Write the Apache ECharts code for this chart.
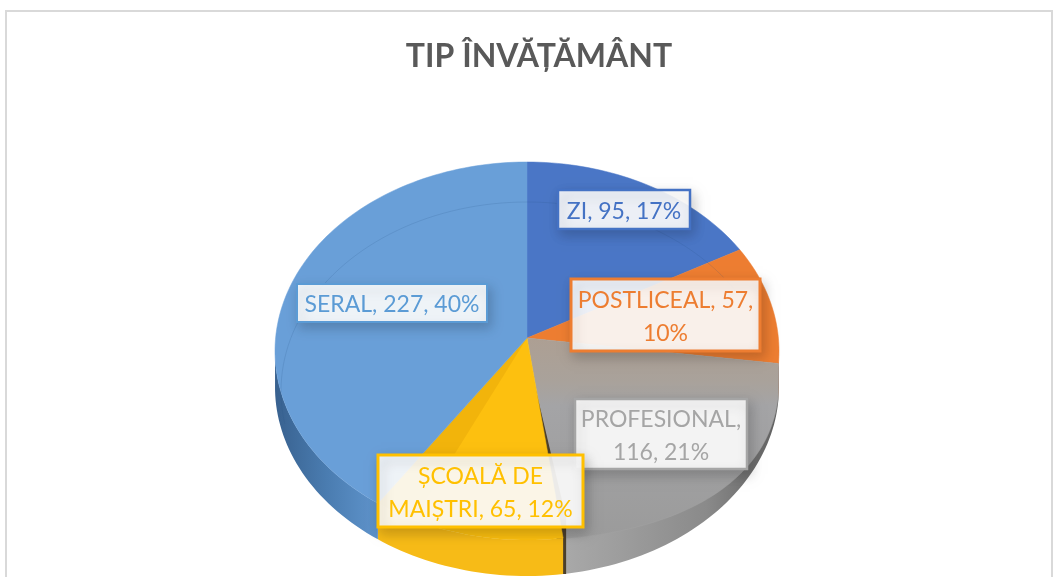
<!DOCTYPE html>
<html>
<head>
<meta charset="utf-8">
<title>TIP ÎNVĂȚĂMÂNT</title>
<style>
html, body { margin: 0; padding: 0; background: #fff; overflow: hidden; }
#chart { width: 1057px; height: 577px; }
</style>
<script src="https://cdn.jsdelivr.net/npm/echarts@6/dist/echarts.min.js"></script>
</head>
<body>
<div id="chart"></div>
<script>
// values
const categories = ['ZI', 'POSTLICEAL', 'PROFESIONAL', 'ȘCOALĂ DE MAIȘTRI', 'SERAL'];
const values = [95, 57, 116, 65, 227];
const percents = [17, 10, 21, 12, 40];
const labelLines = [
    ['ZI, 95, 17%'],
    ['POSTLICEAL, 57,', '10%'],
    ['PROFESIONAL,', '116, 21%'],
    ['ȘCOALĂ DE', 'MAIȘTRI, 65, 12%'],
    ['SERAL, 227, 40%']
];

// look of each slice
const colors = ['#4a76c6', '#ed7d31', '#a3a3a3', '#fdc00f', '#699fd8'];
const total = values.reduce((a, b) => a + b, 0);

// the tilted disc: ellipse, plus the slices' meeting point which sits above its centre
const CX = 527, CY = 351, RX = 252, RY = 189;
const APEX_Y = 338, DEPTH = 36;
const rad = d => d * Math.PI / 180;

// where the ray at angle a (clockwise from top) leaves the ellipse
function rimPoint(a) {
    const dx = Math.sin(rad(a)) * RX, dy = -Math.cos(rad(a)) * RY;
    const oy = APEX_Y - CY;
    const A = dx * dx / (RX * RX) + dy * dy / (RY * RY);
    const B = 2 * oy * dy / (RY * RY);
    const C = oy * oy / (RY * RY) - 1;
    const t = (-B + Math.sqrt(B * B - 4 * A * C)) / (2 * A);
    return [CX + dx * t, APEX_Y + dy * t];
}

function arc(from, to) {
    const pts = [];
    for (let a = from; a < to; a += 1.5) pts.push(rimPoint(a));
    pts.push(rimPoint(to));
    return pts;
}

function sliceAngles(i) {
    let sum = 0;
    for (let k = 0; k < i; k++) sum += values[k];
    return [sum / total * 360, (sum + values[i]) / total * 360];
}

const hGrad = stops => new echarts.graphic.LinearGradient(0, 0, 1, 0, stops.map((c, i) => ({ offset: i / (stops.length - 1), color: c })));

const topFills = [
    colors[0],
    colors[1],
    new echarts.graphic.LinearGradient(0, 0, 0, 1, [
        { offset: 0, color: '#ad9f93' },
        { offset: 0.22, color: '#a9a29b' },
        { offset: 0.34, color: '#a4a4a6' },
        { offset: 1, color: '#9b9b9b' }
    ]),
    colors[3],
    colors[4]
];
const sideFills = [
    '#3f65a8',
    '#b9622a',
    hGrad(['#a9a9a9', '#9a9a9a', '#8a8a8a', '#5f5f5f']),
    '#f7bb17',
    hGrad(['#38618f', '#4a7cb0', '#5f94cc'])
];

function renderSlice(params, api) {
    const i = params.dataIndex;
    const [from, to] = sliceAngles(i);
    const rim = arc(from, to);
    const kids = [];
    // side wall only where the rim is on the near half
    const front = rim.filter(p => p[1] >= CY);
    if (front.length > 1) {
        const lower = front.map(p => [p[0], p[1] + DEPTH]).reverse();
        kids.push({ type: 'polygon', shape: { points: front.concat(lower) }, style: { fill: sideFills[i] } });
    }
    // the gray top face runs lower on its right, so the wall thins out there
    const face = i !== 2 ? rim : rim.map((p, k) => {
        if (k === 0) return p;
        const u = Math.max(0, (p[0] - CX) / RX);
        return [p[0], p[1] + 31 * u * u];
    });
    kids.push({
        type: 'polygon',
        shape: { points: [[CX, APEX_Y]].concat(face) },
        style: { fill: topFills[i], stroke: i === 2 ? '#a3a3a3' : colors[i], lineWidth: 0.5 }
    });
    if (i === 3) {
        // darker band along the blue edge of the yellow slice
        kids.push({
            type: 'polygon',
            shape: { points: [[CX, APEX_Y]].concat(arc(to - 9, to)) },
            style: { fill: 'rgba(205,135,0,0.22)' }
        });
    }
    if (i === 2) {
        // dark cut between the gray and the yellow slice
        const end = rimPoint(to);
        kids.push({
            type: 'polygon',
            shape: { points: [[CX, APEX_Y + 14], [end[0] - 1, end[1] + DEPTH], [end[0] + 3, end[1] + DEPTH], [end[0] + 3, end[1] - 20]] },
            style: { fill: '#4b3f2b' }
        });
    }
    if (i === categories.length - 1) {
        // faint reflected arc across the back of the disc
        const pts = [];
        for (let a = -100; a <= 66; a += 2) {
            pts.push([CX + 246 * Math.sin(rad(a)), CY + 40 - RY * Math.cos(rad(a))]);
        }
        kids.push({ type: 'polyline', shape: { points: pts }, style: { fill: 'none', stroke: 'rgba(40,80,130,0.16)', lineWidth: 1 } });
    }
    return { type: 'group', children: kids };
}

// label boxes: left, top, width, height
const labelBoxes = [
    [558, 190, 132, 39],
    [571, 279, 189, 72],
    [575, 399, 172, 70],
    [378, 455, 205, 72],
    [297, 284, 190, 38]
];
const labelBorders = ['#4472c4', '#ed7d31', '#a5a5a5', '#ffc000', '#5b9bd5'];
const borderWidths = [2.5, 3, 2.5, 3, 2];

function renderLabel(params, api) {
    const i = params.dataIndex;
    const b = labelBoxes[i];
    return {
        type: 'group',
        children: [{
            type: 'rect',
            shape: { x: b[0], y: b[1], width: b[2], height: b[3] },
            style: {
                fill: 'rgba(255,255,255,0.9)', stroke: labelBorders[i], lineWidth: borderWidths[i],
                shadowBlur: 12, shadowOffsetX: 3, shadowOffsetY: 5, shadowColor: 'rgba(0,0,0,0.2)'
            }
        }, {
            type: 'text',
            style: {
                x: b[0] + b[2] / 2, y: b[1] + b[3] / 2 + 2,
                text: labelLines[i].join('\n'),
                align: 'center', verticalAlign: 'middle',
                font: '23px Lato', lineHeight: 33, fill: labelBorders[i]
            }
        }]
    };
}

const chart = echarts.init(document.getElementById('chart'), null, { renderer: 'canvas' });
chart.setOption({
    animation: false,
    title: {
        text: 'TIP ÎNVĂȚĂMÂNT', left: 534, top: 36, textAlign: 'center',
        textStyle: { fontFamily: 'Lato', fontWeight: 'bold', fontSize: 32, color: '#595959' }
    },
    graphic: [{
        type: 'rect', z: -1, silent: true,
        shape: { x: 6, y: 11, width: 1046, height: 600 },
        style: { fill: '#fff', stroke: '#d9d9d9', lineWidth: 2 }
    }],
    series: [{
        type: 'custom', coordinateSystem: 'none', silent: true, z: 2,
        data: categories.map((c, i) => ({ name: c, value: [values[i], percents[i]] })),
        renderItem: renderSlice
    }, {
        type: 'custom', coordinateSystem: 'none', silent: true, z: 5,
        data: categories.map((c, i) => ({ name: c, value: [values[i], percents[i]] })),
        renderItem: renderLabel
    }]
});
</script>
</body>
</html>
